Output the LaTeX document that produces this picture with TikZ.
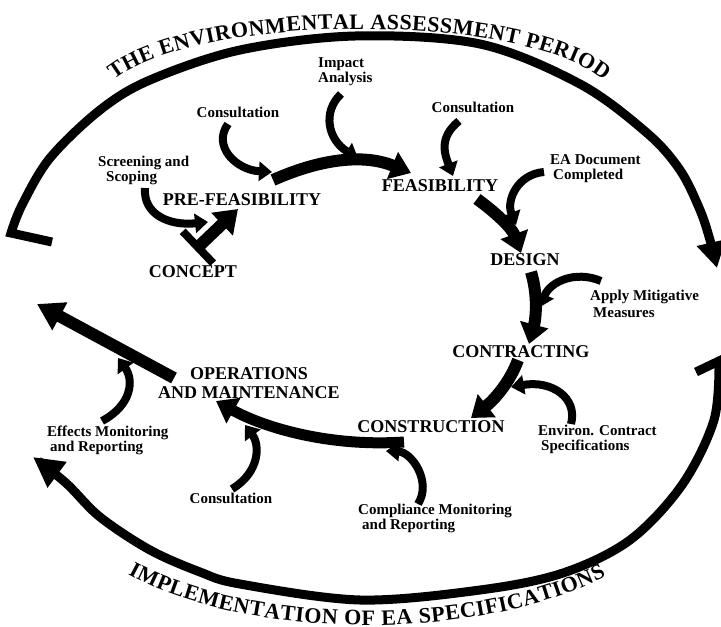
\documentclass[tikz,border=0pt]{standalone}
\usepackage{fontspec}
\setmainfont{Liberation Serif}
\usetikzlibrary{arrows.meta,decorations.text}
\newcommand\stgfont{\fontsize{18}{19}\selectfont\bfseries}
\newcommand\lblfont{\fontsize{15}{15}\selectfont\bfseries}
\newcommand\ttlfont{\fontsize{22}{22}\selectfont\bfseries}
\begin{document}
\begin{tikzpicture}[x=1pt,y=-1pt,
  stage/.style={font=\stgfont, inner sep=0pt},
  lbl/.style={font=\lblfont, inner sep=0pt, align=left, anchor=west},
  lblc/.style={font=\lblfont, inner sep=0pt},
  flow/.style={line width=12pt, -{Triangle[length=20pt,width=28pt]}},
  feed/.style={line width=8pt, -{Triangle[length=13pt,width=19pt]}},
  frame/.style={line width=9pt}]
\useasboundingbox (0,0) rectangle (721,627);

% outer arcs
\draw[frame, -{Triangle[length=26pt,width=28pt]}] (52,242) -- plot[smooth, tension=0.55] coordinates {(11,233) (22,205) (50,158) (100,110) (150,80) (240,50) (355,36) (480,44) (580,84) (647,133) (680,170) (700,210) (710,240) (717,268)};
\draw[frame, -{Triangle[length=30pt,width=30pt]}] (696,372) -- plot[smooth, tension=0.55] coordinates {(719,361) (714,420) (682,485) (630,540) (563,573) (480,590) (360,600) (240,584) (200,572) (150,550) (100,517) (66,483) (33,457)};

% titles along the arcs
\path[decorate, decoration={text along path, text={|\ttlfont|THE ENVIRONMENTAL ASSESSMENT PERIOD}, text align={fit to path}}] (114,80) .. controls (200,12) and (520,12) .. (604,80);
\path[decorate, decoration={text along path, text={|\ttlfont|IMPLEMENTATION OF EA SPECIFICATIONS}, text align={fit to path}}] (128,574) .. controls (250,642) and (480,642) .. (606,576);

% stages
\node[stage] (prefeas) at (242,200) {PRE-FEASIBILITY};
\node[stage] (feas) at (440,186) {FEASIBILITY};
\node[stage] (concept) at (193,272) {CONCEPT};
\node[stage] (design) at (525,260) {DESIGN};
\node[stage] (contract) at (521,352) {CONTRACTING};
\node[stage] (construct) at (431,427) {CONSTRUCTION};
\node[stage, align=center] (om) at (249,383) {OPERATIONS\\AND MAINTENANCE};

% inputs
\node[lbl] (impact) at (318,72) {Impact\\Analysis};
\node[lblc] (cons1) at (238,112) {Consultation};
\node[lblc] (cons2) at (473,107) {Consultation};
\node[lbl] (screen) at (98,170.5) {Screening and\\\hspace*{8pt}Scoping};
\node[lbl] (eadoc) at (550,169) {EA Document\\\hspace*{3pt}Completed};
\node[lbl] (apply) at (590,303.5) {Apply Mitigative\\[2pt]\hspace*{3pt}Measures};
\node[lbl] (environ) at (538,439.5) {Environ. Contract\\\hspace*{3pt}Specifications};
\node[lbl] (effects) at (47,440.5) {Effects Monitoring\\\hspace*{3pt}and Reporting};
\node[lbl] (compl) at (358,518.5) {Compliance Monitoring\\\hspace*{4pt}and Reporting};
\node[lblc] (cons3) at (231,498) {Consultation};

% connector end points
\coordinate (pf-out) at (273,180);  \coordinate (f-in) at (411,173);
\coordinate (c-out) at (195,250);   \coordinate (pf-in) at (238,209);
\coordinate (f-out) at (477,199);   \coordinate (d-in) at (521,253);
\coordinate (d-out) at (531,272);   \coordinate (ct-in) at (529,344);
\coordinate (ct-out) at (518,360);  \coordinate (cs-in) at (471,418);
\coordinate (cs-out) at (404,442);  \coordinate (om-in) at (216,401);
\coordinate (om-out) at (174,378);  \coordinate (loop) at (37,304);

\coordinate (scr-a) at (145,188);   \coordinate (scr-b) at (208,222);
\coordinate (c1-a) at (228,124);    \coordinate (c1-b) at (272,172);
\coordinate (imp-a) at (341,94);    \coordinate (imp-b) at (358,158);
\coordinate (c2-a) at (459,121);    \coordinate (c2-b) at (453,176);
\coordinate (ea-a) at (544,172);    \coordinate (ea-b) at (516,225);
\coordinate (ap-a) at (601,281);    \coordinate (ap-b) at (540,307);
\coordinate (en-a) at (571,424);    \coordinate (en-b) at (511,387);
\coordinate (cm-a) at (418,504);    \coordinate (cm-b) at (386,451);
\coordinate (c3-a) at (232,489);    \coordinate (c3-b) at (245,425);
\coordinate (ef-a) at (102,421);    \coordinate (ef-b) at (118,358);

% main flow
\draw[flow] (pf-out) .. controls (318,160) and (362,153) .. (f-in);
\draw[line width=12pt, {Bar[width=44pt,line width=8pt]}-{Triangle[length=22pt,width=30pt]}] (c-out) -- (pf-in);
\draw[flow] (f-out) .. controls (495,212) and (512,228) .. (d-in);
\draw[flow] (d-out) .. controls (538,295) and (536,318) .. (ct-in);
\draw[flow] (ct-out) .. controls (510,382) and (494,400) .. (cs-in);
\draw[flow, line width=11pt] (cs-out) .. controls (330,447) and (265,428) .. (om-in);
\draw[flow, -{Triangle[length=26pt,width=30pt]}] (om-out) -- (loop);

% feeding arrows
\draw[feed] (scr-a) .. controls (143,215) and (170,226) .. (scr-b);
\draw[feed] (c1-a) .. controls (212,146) and (236,170) .. (c1-b);
\draw[feed] (imp-a) .. controls (322,112) and (328,140) .. (imp-b);
\draw[feed] (c2-a) .. controls (438,138) and (445,155) .. (c2-b);
\draw[feed] (ea-a) .. controls (518,174) and (506,200) .. (ea-b);
\draw[feed] (ap-a) .. controls (575,270) and (550,282) .. (ap-b);
\draw[feed] (en-a) .. controls (578,398) and (552,380) .. (en-b);
\draw[feed] (cm-a) .. controls (432,482) and (412,452) .. (cm-b);
\draw[feed] (c3-a) .. controls (260,472) and (260,445) .. (c3-b);
\draw[feed] (ef-a) .. controls (132,405) and (134,380) .. (ef-b);
\end{tikzpicture}
\end{document}
